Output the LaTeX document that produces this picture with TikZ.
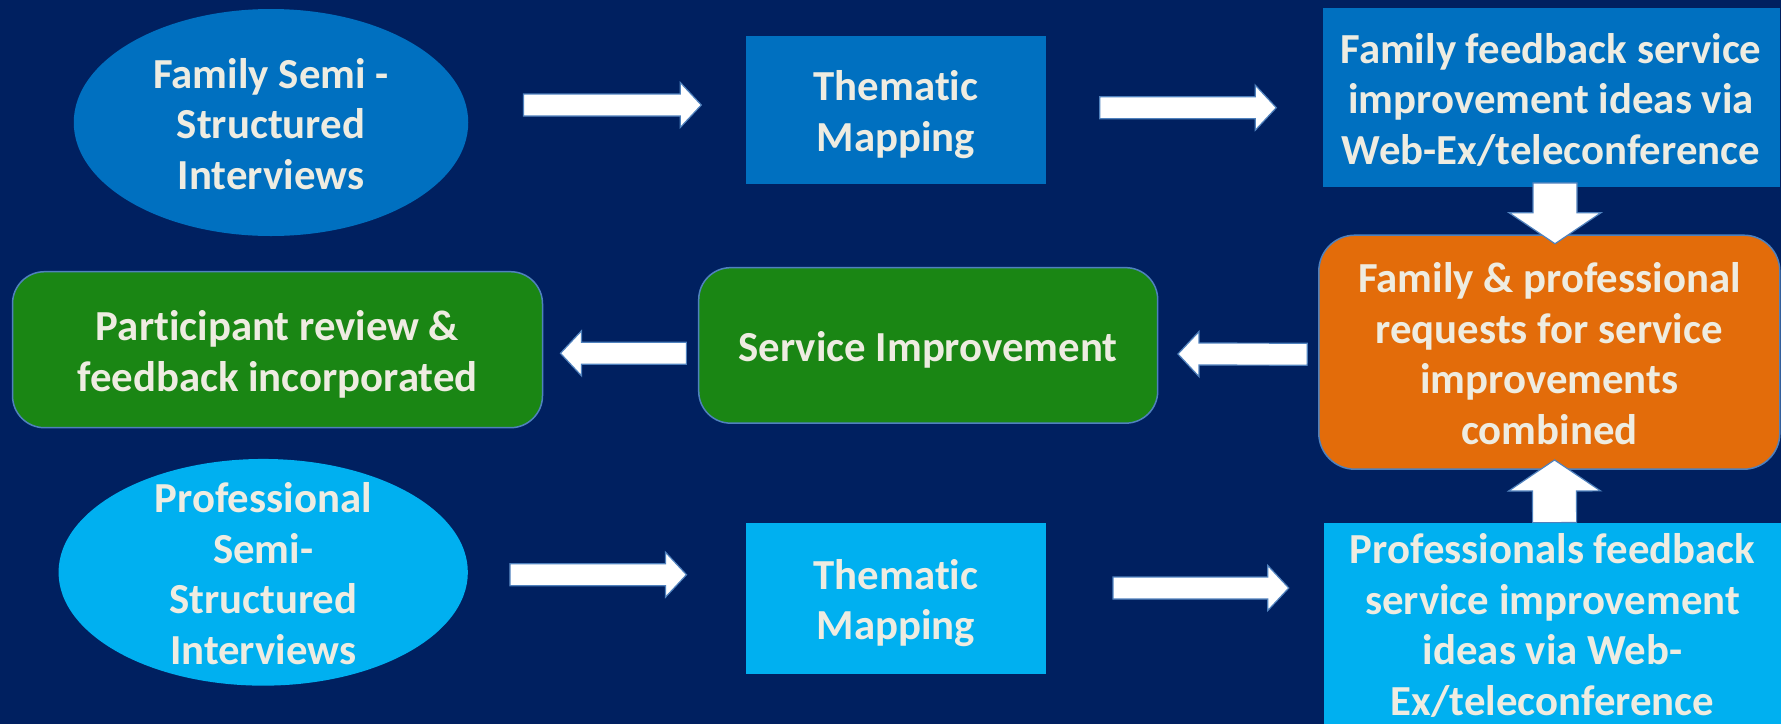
\documentclass[tikz,border=0pt]{standalone}
\usepackage{fontspec}
\setmainfont{Carlito}[Ligatures=NoCommon]
\usetikzlibrary{shapes.geometric,calc}

\definecolor{navy}{HTML}{002060}
\definecolor{midblue}{HTML}{0070C0}
\definecolor{skyblue}{HTML}{00B0F0}
\definecolor{leafgreen}{HTML}{1A8614}
\definecolor{amber}{HTML}{E36C0A}
\definecolor{cream}{HTML}{EEECE1}
\definecolor{rim}{HTML}{4F81BD}

% uniform line box so that text blocks centre like slide text
\newcommand\ls{\rule[-8.6pt]{0pt}{49.3pt}}

\tikzset{
  txt/.style={text=cream, font=\bfseries\fontsize{42.8}{50.5}\selectfont,
    align=center, inner sep=0pt},
  oval/.style={ellipse, inner sep=0pt},
  flatbox/.style={rectangle, txt},
  roundbox/.style={rectangle, txt, draw=rim, line width=1.5pt},
  % block arrow geometry: half shaft width, half head width, head length
  bshaft/.store in=\bShaft, bhead/.store in=\bHead, blen/.store in=\bLen,
  bshaft=11pt, bhead=22.5pt, blen=21pt,
  blockarrow/.style={fill=white, draw=rim, line width=1.2pt, line join=miter,
    to path={
      ($(\tikztostart)!\bShaft!90:(\tikztotarget)$)
      -- ($(\tikztotarget)!\bLen!(\tikztostart)!\bShaft!-90:(\tikztostart)$)
      -- ($(\tikztotarget)!\bLen!(\tikztostart)!\bHead!-90:(\tikztostart)$)
      -- (\tikztotarget)
      -- ($(\tikztotarget)!\bLen!(\tikztostart)!\bHead!90:(\tikztostart)$)
      -- ($(\tikztotarget)!\bLen!(\tikztostart)!\bShaft!90:(\tikztostart)$)
      -- ($(\tikztostart)!\bShaft!-90:(\tikztotarget)$)
      -- cycle}},
  bigarrow/.style={blockarrow, bshaft=22pt, bhead=46pt, blen=31pt}
}

\begin{document}
\begin{tikzpicture}[x=1pt, y=-1pt]
  \useasboundingbox (0,0) rectangle (1781,724);
  \clip (0,0) rectangle (1781,724);
  \fill[navy] (0,0) rectangle (1781,724);

  % family stream (top row)
  \node[oval, fill=midblue, minimum width=394.5pt, minimum height=227pt] (fam) at (271,122.5) {};
  \node[txt] (famtxt) at (fam.center) {\ls Family Semi -\\Structured\\Interviews\ls};
  \node[flatbox, fill=midblue, minimum width=300pt, minimum height=148pt] (th1) at (896,109.7) {\ls Thematic\\Mapping\ls};
  \node[flatbox, fill=midblue, minimum width=457pt, minimum height=179pt] (ffb) at (1551,97.8)
    {\ls Family feedback service\\improvement ideas via\\Web-Ex/teleconference\ls};

  % combined requests and improvement (middle row)
  \node[roundbox, fill=amber, rounded corners=36pt, minimum width=461pt, minimum height=234pt] (comb) at (1549.3,352.2)
    {\ls Family \& professional\\requests for service\\improvements\\combined\ls};
  \node[roundbox, fill=leafgreen, rounded corners=32pt, minimum width=459pt, minimum height=155.5pt] (svc) at (928.2,345.4)
    {\ls Service Improvement\ls};
  \node[roundbox, fill=leafgreen, rounded corners=32pt, minimum width=530pt, minimum height=156pt] (part) at (277.5,349.7)
    {\ls Participant review \&\\feedback incorporated\ls};

  % professional stream (bottom row)
  \node[oval, fill=skyblue, minimum width=409.3pt, minimum height=226.7pt] (pro) at (263.2,572.3) {};
  \node[txt] (protxt) at (pro.center) {\ls Professional\\Semi-\\Structured\\Interviews\ls};
  \node[flatbox, fill=skyblue, minimum width=300pt, minimum height=151.6pt] (th2) at (896,598.5) {\ls Thematic\\Mapping\ls};
  \node[flatbox, fill=skyblue, minimum width=457pt, minimum height=201pt] (pfb) at (1552.6,623.3)
    {\ls Professionals feedback\\service improvement\\ideas via Web-\\Ex/teleconference\ls};

  % block arrows
  \draw[blockarrow] ($(fam.east)+(55,-17.5)$) to ($(th1.west)+(-44.5,-4.7)$);
  \draw[blockarrow] ($(th1.east)+(53.5,-2)$) to ($(ffb.west)+(-46,9.9)$);
  \draw[bigarrow] ($(ffb.south)+(4,-4.6)$) to ($(comb.north)+(5.7,9.3)$);
  \draw[blockarrow] ($(comb.west)+(-10.9,2)$) to ($(svc.east)+(19.5,8.6)$);
  \draw[blockarrow] ($(svc.west)+(-11.6,7.9)$) to ($(part.east)+(17.2,3.6)$);
  \draw[blockarrow] ($(pro.east)+(41.9,2.4)$) to ($(th2.west)+(-59.3,-23.8)$);
  \draw[blockarrow] ($(th2.east)+(66.8,-10.5)$) to ($(pfb.west)+(-35.1,-35.3)$);
  \draw[bigarrow] ($(pfb.north)+(2,0)$) to ($(comb.south)+(5.2,-10)$);
\end{tikzpicture}
\end{document}
